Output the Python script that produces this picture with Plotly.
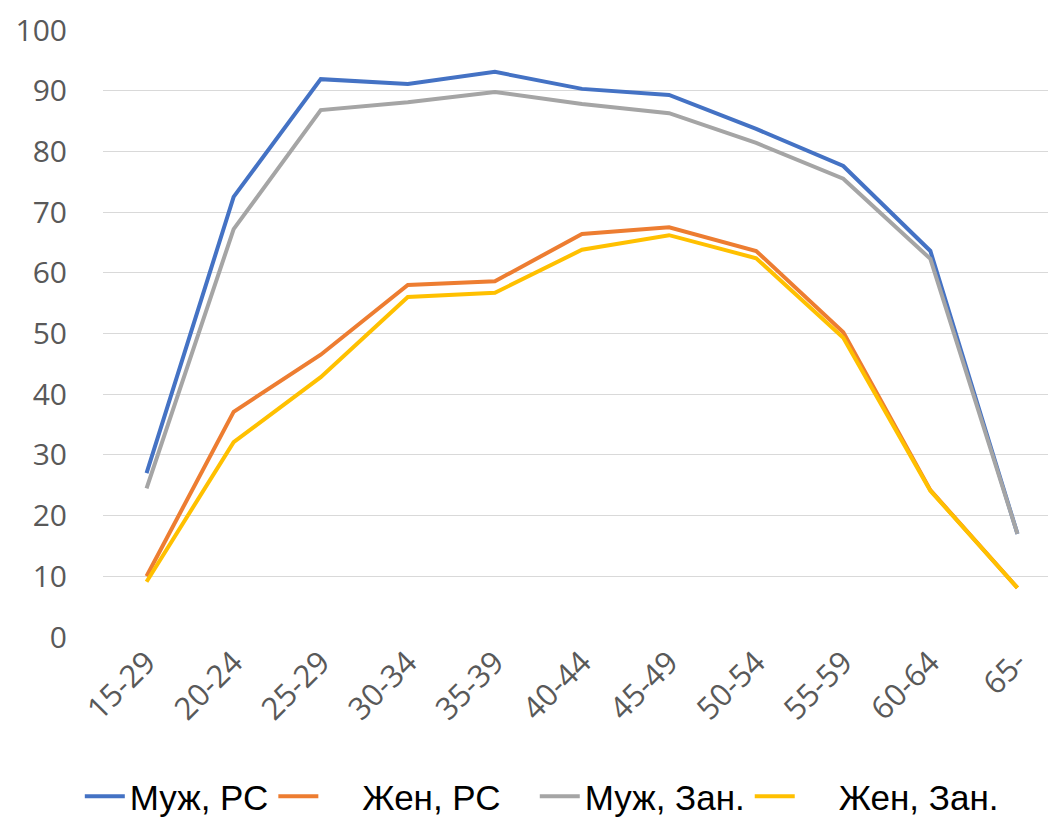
import plotly.graph_objects as go

categories = ["15-29", "20-24", "25-29", "30-34", "35-39", "40-44", "45-49", "50-54", "55-59", "60-64", "65-"]
muzh_rs = [27.0, 72.5, 91.9, 91.1, 93.1, 90.3, 89.3, 83.7, 77.6, 63.6, 17.0]
zhen_rs = [10.0, 37.1, 46.5, 58.0, 58.6, 66.4, 67.5, 63.6, 50.2, 24.2, 8.1]
muzh_zan = [24.5, 67.2, 86.8, 88.1, 89.8, 87.8, 86.3, 81.4, 75.5, 62.3, 17.0]
zhen_zan = [9.1, 32.1, 42.8, 56.0, 56.7, 63.8, 66.2, 62.4, 49.3, 24.1, 8.1]
y_ticks = [0, 10, 20, 30, 40, 50, 60, 70, 80, 90, 100]

NB = "\u00a0"
series = [
    ("Муж, РС", muzh_rs, "#4472C4"),
    (NB * 4 + "Жен, РС" + NB * 3, zhen_rs, "#ED7D31"),
    ("Муж, Зан.", muzh_zan, "#A5A5A5"),
    (NB * 4 + "Жен, Зан.", zhen_zan, "#FFC000"),
]

fig = go.Figure()
for name, vals, color in series:
    fig.add_trace(go.Scatter(x=categories, y=vals, mode="lines", name=name,
                             line=dict(color=color, width=4)))

fig.update_layout(
    width=1056, height=818,
    paper_bgcolor="white", plot_bgcolor="white",
    margin=dict(l=95, r=3, t=22, b=189, autoexpand=False),
    font=dict(family="Open Sans", color="#595959"),
    legend=dict(orientation="h", x=0.068, xanchor="left", xref="container",
                y=0.0, yanchor="bottom", yref="container",
                font=dict(family="Liberation Sans", size=35, color="#000000"),
                itemwidth=40, tracegroupgap=0, bgcolor="rgba(0,0,0,0)"),
    showlegend=True,
)
fig.update_xaxes(type="category", range=[-0.5, 10.5], showgrid=False, showline=False,
                 tickangle=-45, tickfont=dict(size=31, color="#595959"), ticks="",
                 automargin=False)
fig.update_yaxes(range=[0, 100], tickvals=y_ticks, showgrid=True, gridcolor="#D9D9D9",
                 gridwidth=1, zeroline=False, showline=False, ticks="",
                 tickfont=dict(size=30, color="#595959"), ticklabelstandoff=35,
                 automargin=False)

fig.write_html("out.html")
